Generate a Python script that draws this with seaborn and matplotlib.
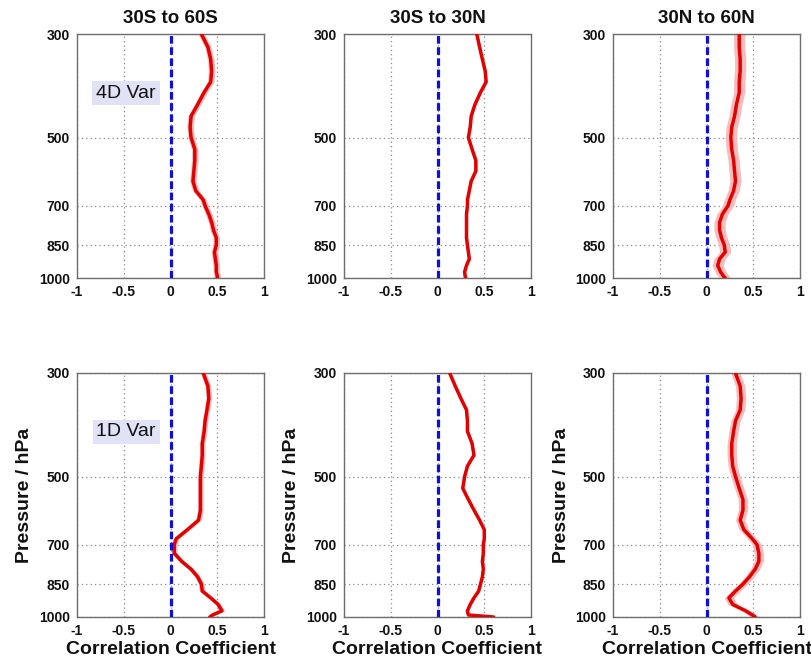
import numpy as np
import pandas as pd
import seaborn as sns
import matplotlib
matplotlib.use("Agg")
import matplotlib.pyplot as plt
from matplotlib.ticker import NullLocator, FixedLocator, FixedFormatter

sns.set_style("white")
plt.rcParams["font.family"] = ["Liberation Sans", "DejaVu Sans"]
plt.rcParams["font.weight"] = "bold"
plt.rcParams["text.color"] = "#111111"
plt.rcParams["axes.labelcolor"] = "#111111"
plt.rcParams["xtick.labelcolor"] = "#111111"
plt.rcParams["ytick.labelcolor"] = "#111111"

# Pressure levels (hPa)
pressure = [300, 320, 340, 360, 380, 400, 425, 450, 475, 500, 530, 560, 590, 620,
            650, 680, 700, 730, 760, 790, 820, 850, 880, 910, 940, 970, 990, 1000]

# Correlation profiles, 4D-Var
var4d_30s60s = [0.33, 0.40, 0.43, 0.44, 0.43, 0.36, 0.29, 0.22, 0.21, 0.22, 0.26, 0.26, 0.25, 0.24,
                0.27, 0.35, 0.37, 0.41, 0.44, 0.46, 0.49, 0.49, 0.47, 0.48, 0.49, 0.49, 0.50, 0.50]
var4d_30s30n = [0.42, 0.45, 0.48, 0.51, 0.52, 0.46, 0.40, 0.36, 0.35, 0.33, 0.37, 0.41, 0.41, 0.36,
                0.34, 0.32, 0.32, 0.31, 0.31, 0.31, 0.31, 0.32, 0.33, 0.34, 0.31, 0.29, 0.295, 0.30]
var4d_30n60n = [0.35, 0.35, 0.36, 0.36, 0.35, 0.35, 0.32, 0.30, 0.27, 0.26, 0.27, 0.29, 0.30, 0.31,
                0.29, 0.25, 0.23, 0.17, 0.14, 0.14, 0.16, 0.19, 0.20, 0.14, 0.12, 0.15, 0.18, 0.20]

# Correlation profiles, 1D-Var
var1d_30s60s = [0.35, 0.40, 0.41, 0.39, 0.37, 0.36, 0.34, 0.34, 0.33, 0.32, 0.32, 0.32, 0.32, 0.30,
                0.18, 0.06, 0.04, 0.04, 0.12, 0.22, 0.29, 0.33, 0.34, 0.43, 0.51, 0.55, 0.45, 0.42]
var1d_30s30n = [0.13, 0.19, 0.25, 0.31, 0.32, 0.32, 0.37, 0.39, 0.32, 0.29, 0.27, 0.33, 0.39, 0.45,
                0.50, 0.50, 0.49, 0.49, 0.48, 0.49, 0.48, 0.46, 0.44, 0.39, 0.35, 0.32, 0.33, 0.60]
var1d_30n60n = [0.31, 0.36, 0.37, 0.36, 0.31, 0.29, 0.27, 0.27, 0.28, 0.31, 0.35, 0.39, 0.39, 0.36,
                0.40, 0.49, 0.54, 0.56, 0.56, 0.52, 0.46, 0.39, 0.31, 0.24, 0.28, 0.42, 0.49, 0.52]

regions = ["30S to 60S", "30S to 30N", "30N to 60N"]
schemes = ["4D Var", "1D Var"]
profiles = [[var4d_30s60s, var4d_30s30n, var4d_30n60n],
            [var1d_30s60s, var1d_30s30n, var1d_30n60n]]
# half-width of the shaded uncertainty band per panel
spread = [[0.035, 0.012, 0.06],
          [0.03, 0.012, 0.05]]

yticks = [300, 500, 700, 850, 1000]
xticks = [-1, -0.5, 0, 0.5, 1]
xticklabels = ["-1", "-0.5", "0", "0.5", "1"]

W, H = 811, 665
fig = plt.figure(figsize=(W / 100, H / 100), dpi=100)

col_left = [77, 344, 613]
row_top = [34, 373]
ax_w, ax_h = 187, 244

for r in range(2):
    for c in range(3):
        left = col_left[c] / W
        bottom = (H - (row_top[r] + ax_h)) / H
        ax = fig.add_axes([left, bottom, ax_w / W, ax_h / H])
        vals = np.array(profiles[r][c])
        pres = np.array(pressure)
        df = pd.DataFrame({"corr": vals, "p": pres})

        ax.set_yscale("log")
        ax.fill_betweenx(pres, vals - spread[r][c], vals + spread[r][c],
                         color="#f6bcbc", lw=0, zorder=2)
        sns.lineplot(data=df, x="corr", y="p", sort=False, estimator=None,
                     color="#e30000", lw=2.5, ax=ax, zorder=3)
        ax.axvline(0, color="#1010d8", lw=2.3, ls=(0, (2.4, 1.1)), zorder=4)

        ax.set_xlim(-1, 1)
        ax.set_ylim(1000, 300)
        ax.yaxis.set_major_locator(FixedLocator(yticks))
        ax.yaxis.set_major_formatter(FixedFormatter([str(t) for t in yticks]))
        ax.yaxis.set_minor_locator(NullLocator())
        ax.set_xticks(xticks)
        ax.set_xticklabels(xticklabels)

        ax.grid(True, which="major", color="#8a8a8a", ls=(0, (1, 2.5)), lw=0.9, zorder=1)
        ax.tick_params(axis="both", direction="in", length=3, width=0.8,
                       color="#707070", labelsize=10, pad=5)
        for lab in ax.get_xticklabels() + ax.get_yticklabels():
            lab.set_fontweight("bold")
        for sp in ax.spines.values():
            sp.set_color("#6e6e6e")
            sp.set_linewidth(1.0)

        ax.set_xlabel("")
        ax.set_ylabel("")
        if r == 0:
            ax.set_title(regions[c], fontsize=13.5, fontweight="bold", pad=8)
        else:
            ax.set_xlabel("Correlation Coefficient", fontsize=14, fontweight="bold", labelpad=2)
            ax.set_ylabel("Pressure / hPa", fontsize=14, fontweight="bold", labelpad=4)
        if c == 0:
            ax.text(0.263, 1 - 59 / 244, schemes[r], transform=ax.transAxes,
                    ha="center", va="center", fontsize=14, fontweight="normal",
                    bbox=dict(boxstyle="square,pad=0.2", fc="#e2e2f6", ec="none"),
                    zorder=5)

fig.savefig("out.png", dpi=100)
